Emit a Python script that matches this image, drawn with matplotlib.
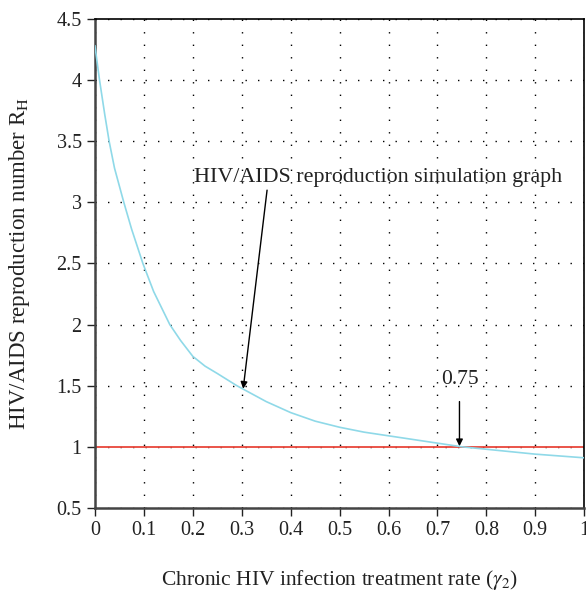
import matplotlib
matplotlib.use("Agg")
import matplotlib.pyplot as plt

plt.rcParams['font.family'] = ['Liberation Serif', 'DejaVu Serif']
plt.rcParams['mathtext.fontset'] = 'stix'

# treatment rate gamma_2 and reproduction number R_H
gamma2 = [0.0, 0.0094, 0.02, 0.029, 0.04, 0.059, 0.075, 0.098, 0.12, 0.153,
          0.175, 0.2, 0.225, 0.25, 0.29, 0.35, 0.4, 0.45, 0.5, 0.55, 0.6,
          0.65, 0.7, 0.75, 0.8, 0.85, 0.9, 0.95, 1.0]
r_h = [4.28, 4.0, 3.72, 3.5, 3.28, 3.0, 2.78, 2.5, 2.27, 2.0,
       1.87, 1.74, 1.66, 1.6, 1.5, 1.37, 1.28, 1.21, 1.16, 1.12, 1.09,
       1.06, 1.03, 1.0, 0.98, 0.96, 0.94, 0.925, 0.91]
threshold = 1.0

xticks = [0, 0.1, 0.2, 0.3, 0.4, 0.5, 0.6, 0.7, 0.8, 0.9, 1]
xticklabels = ['0', '0.1', '0.2', '0.3', '0.4', '0.5', '0.6', '0.7', '0.8', '0.9', '1']
yticks = [0.5, 1, 1.5, 2, 2.5, 3, 3.5, 4, 4.5]
yticklabels = ['0.5', '1', '1.5', '2', '2.5', '3', '3.5', '4', '4.5']

fig = plt.figure(figsize=(5.86, 5.92), dpi=100)
ax = fig.add_axes([0.162, 0.142, 0.835, 0.826])

ax.plot(gamma2, r_h, color='#8fd9e8', lw=1.2, zorder=3)
ax.axhline(threshold, color='#e8473c', lw=1.3, zorder=2)

ax.set_xlim(0, 1)
ax.set_ylim(0.5, 4.5)
ax.set_xticks(xticks)
ax.set_xticklabels(xticklabels)
ax.set_yticks(yticks)
ax.set_yticklabels(yticklabels)
ax.tick_params(direction='out', length=6, width=1, labelsize=14.5, colors='#222222')
ax.grid(True, color='black', lw=1.0, linestyle=(0, (1, 8)))

for side in ['left', 'bottom']:
    ax.spines[side].set_linewidth(1.8)
    ax.spines[side].set_color('#444444')
ax.spines['top'].set_linewidth(1.2)
ax.spines['right'].set_linewidth(1.2)

ax.set_xlabel(r'Chronic HIV infection treatment rate ($\gamma_2$)', fontsize=15.5,
              labelpad=20, color='#222222')
ax.set_ylabel(r'HIV/AIDS reproduction number R$_{\rm H}$', fontsize=16.5,
              color='#222222')
ax.yaxis.set_label_coords(-0.128, 0.5)

ax.annotate('HIV/AIDS reproduction simulation graph', xy=(0.303, 1.475),
            xytext=(0.202, 3.2), fontsize=15.8, color='#222222', va='center',
            arrowprops=dict(arrowstyle='-|>', color='black', lw=1.0,
                            shrinkA=0, shrinkB=0, mutation_scale=10,
                            relpos=(0.2, 0.0)))
ax.annotate('0.75', xy=(0.745, 1.005), xytext=(0.745, 1.55), fontsize=15.5,
            color='#222222', ha='center', va='center',
            arrowprops=dict(arrowstyle='-|>', color='black', lw=1.0,
                            shrinkA=7, shrinkB=0, mutation_scale=10))

fig.savefig('out.png', dpi=100)
